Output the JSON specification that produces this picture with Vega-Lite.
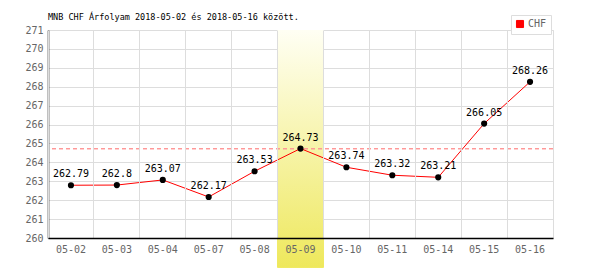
{
  "$schema": "https://vega.github.io/schema/vega-lite/v6.json",
  "autosize": "none",
  "width": 505,
  "height": 208,
  "padding": {"left": 48, "top": 30, "right": 47, "bottom": 32},
  "background": "white",
  "config": {
    "view": {"stroke": "#dddddd"},
    "font": "DejaVu Sans Mono"
  },
  "title": {
    "text": "MNB CHF Árfolyam 2018-05-02 és 2018-05-16 között.",
    "anchor": "start",
    "frame": "group",
    "font": "DejaVu Sans Mono",
    "fontSize": 8.5,
    "fontWeight": "normal",
    "color": "black",
    "offset": -7
  },
  "data": {
    "values": [
      {"date": "05-02", "value": 262.79},
      {"date": "05-03", "value": 262.8},
      {"date": "05-04", "value": 263.07},
      {"date": "05-07", "value": 262.17},
      {"date": "05-08", "value": 263.53},
      {"date": "05-09", "value": 264.73},
      {"date": "05-10", "value": 263.74},
      {"date": "05-11", "value": 263.32},
      {"date": "05-14", "value": 263.21},
      {"date": "05-15", "value": 266.05},
      {"date": "05-16", "value": 268.26}
    ]
  },
  "encoding": {
    "x": {
      "field": "date",
      "type": "ordinal",
      "scale": {"type": "band", "paddingInner": 0, "paddingOuter": 0},
      "axis": {
        "title": null,
        "labelAngle": 0,
        "labelColor": "#666666",
        "labelFont": "DejaVu Sans Mono",
        "labelFontSize": 10,
        "labelPadding": 6,
        "ticks": false,
        "bandPosition": 0,
        "grid": true,
        "gridColor": "#dddddd",
        "domainColor": "black",
        "domainWidth": 1.5
      }
    },
    "y": {
      "field": "value",
      "type": "quantitative",
      "scale": {"domain": [260, 271], "nice": false, "zero": false},
      "axis": {
        "title": null,
        "values": [260, 261, 262, 263, 264, 265, 266, 267, 268, 269, 270, 271],
        "labelOverlap": false,
        "labelColor": "#666666",
        "labelFont": "DejaVu Sans Mono",
        "labelFontSize": 10,
        "labelPadding": 5,
        "ticks": false,
        "gridColor": "#dddddd",
        "domainColor": "black",
        "domainWidth": 1.5
      }
    }
  },
  "layer": [
    {
      "mark": {
        "type": "rect",
        "clip": false,
        "color": {
          "gradient": "linear",
          "x1": 0, "y1": 0, "x2": 0, "y2": 1,
          "stops": [
            {"offset": 0, "color": "#fffff4"},
            {"offset": 1, "color": "#eee85c"}
          ]
        }
      },
      "encoding": {
        "x": {"datum": "05-09"},
        "y": {"datum": 271},
        "y2": {"datum": 258.45}
      }
    },
    {
      "mark": {"type": "rule", "color": "#ff9999", "strokeDash": [4, 3], "strokeWidth": 1},
      "encoding": {"y": {"datum": 264.73}, "x": null}
    },
    {
      "mark": {"type": "line", "strokeWidth": 1},
      "encoding": {
        "color": {
          "datum": "CHF",
          "scale": {"range": ["#ff0000"]},
          "legend": {
            "title": null,
            "orient": "none",
            "legendX": 463,
            "legendY": -15,
            "symbolType": "square",
            "symbolSize": 50,
            "symbolFillColor": "#ff0000",
            "symbolStrokeColor": "#888888",
            "symbolStrokeWidth": 1,
            "strokeColor": "#dddddd",
            "fillColor": "white",
            "padding": 4,
            "labelColor": "#666666",
            "labelFont": "DejaVu Sans Mono",
            "labelFontSize": 10,
            "labelOffset": 3
          }
        }
      }
    },
    {
      "mark": {"type": "point", "filled": true, "color": "black", "size": 38, "opacity": 1}
    },
    {
      "mark": {"type": "text", "dy": -8, "baseline": "alphabetic", "font": "DejaVu Sans Mono", "fontSize": 10, "color": "black"},
      "encoding": {"text": {"field": "value", "type": "quantitative"}}
    }
  ]
}
